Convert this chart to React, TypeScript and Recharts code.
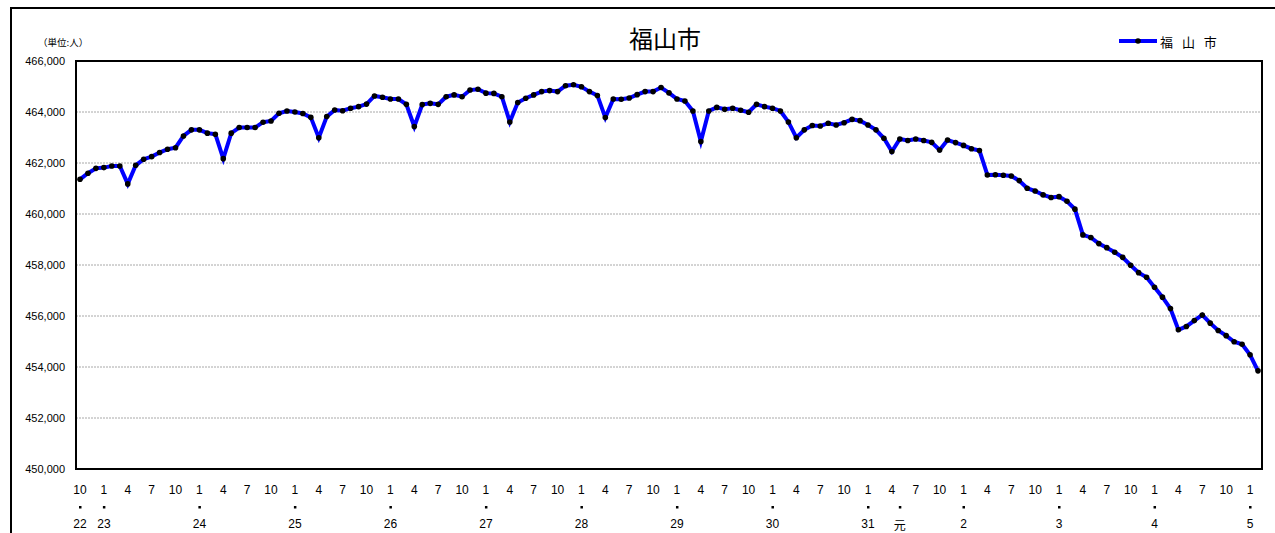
import React from 'react';
import { LineChart, Line, XAxis, YAxis, CartesianGrid } from 'recharts';

// monthly population, Oct 2010 (H22.10) .. Feb 2023 (R5.2)
const seriesName = '福 山 市';
const startYear = 2010;
const startMonth = 10;
const population = [
  461360, 461600, 461790, 461820, 461880, 461880, 461180, 461910, 462150, 462250, 462410, 462540,
  462600, 463060, 463300, 463300, 463170, 463130, 462170, 463170, 463390, 463390, 463390, 463600,
  463650, 463950, 464040, 464000, 463940, 463790, 462990, 463820, 464080, 464050, 464150, 464210,
  464310, 464630, 464580, 464510, 464510, 464300, 463430, 464290, 464340, 464300, 464600, 464670,
  464600, 464860, 464890, 464740, 464730, 464600, 463610, 464370, 464540, 464670, 464800, 464840,
  464800, 465030, 465070, 464990, 464800, 464650, 463780, 464510, 464500, 464550, 464680, 464800,
  464800, 464960, 464750, 464510, 464430, 464040, 462840, 464040, 464180, 464110, 464150, 464070,
  463990, 464300, 464210, 464150, 464040, 463610, 462990, 463300, 463470, 463450, 463560, 463490,
  463580, 463710, 463660, 463490, 463300, 462970, 462450, 462940, 462880, 462940, 462880, 462810,
  462510, 462900, 462800, 462690, 462560, 462490, 461530, 461540, 461520, 461490, 461310, 461010,
  460900, 460750, 460650, 460680, 460500, 460190, 459180, 459080, 458840, 458680, 458500, 458300,
  457990, 457700, 457520, 457130, 456740, 456290, 455460, 455590, 455820, 456040, 455720, 455430,
  455230, 454990, 454890, 454480, 453850,
];

// months that get a label on the axis
const labelledMonths = [1, 4, 7, 10];

// era year labels (Heisei / Reiwa), keyed by year-month
const eraLabels: Record<string, string> = {
  '2010-10': '22', '2011-1': '23', '2012-1': '24', '2013-1': '25', '2014-1': '26',
  '2015-1': '27', '2016-1': '28', '2017-1': '29', '2018-1': '30', '2019-1': '31',
  '2019-5': '元', '2020-1': '2', '2021-1': '3', '2022-1': '4', '2023-1': '5',
};

const yTicks = [450000, 452000, 454000, 456000, 458000, 460000, 462000, 464000, 466000];

const data = population.map((value, i) => {
  const n = startMonth - 1 + i;
  const month = (n % 12) + 1;
  const year = startYear + Math.floor(n / 12);
  const key = `${year}-${month}`;
  return {
    key,
    month: labelledMonths.includes(month) ? String(month) : '',
    era: eraLabels[key] ?? '',
    value,
  };
});

const numFont = '"Liberation Sans", Arial, sans-serif';
const jpFont = '"Noto Sans CJK JP", sans-serif';

const MonthTick = (props: any) => {
  const { x, y, index } = props;
  const d = data[index];
  if (!d) return null;
  return (
    <g transform={`translate(${x},${y})`}>
      {d.month && (
        <text y={21} textAnchor="middle" dominantBaseline="central" fontSize={12} fontFamily={numFont} fill="#000">
          {d.month}
        </text>
      )}
      {d.era && (
        <>
          <rect x={-1} y={37} width={2.5} height={2.5} fill="#000" />
          <text y={55} textAnchor="middle" dominantBaseline="central" fontSize={12} fontFamily={d.era === '元' ? jpFont : numFont} fill="#000">
            {d.era}
          </text>
        </>
      )}
    </g>
  );
};

export default function App() {
  return (
    <div style={{ position: 'absolute', left: 0, top: 0, width: 1275, height: 533, overflow: 'hidden', background: '#fff' }}>
      {/* outer frame */}
      <div style={{ position: 'absolute', left: 10, top: 7, width: 1320, height: 600, border: '2px solid #000', boxSizing: 'border-box' }} />

      <div style={{ position: 'absolute', left: 565, top: 24, width: 200, textAlign: 'center', fontFamily: jpFont, fontSize: 24, lineHeight: '28px', color: '#000' }}>
        福山市
      </div>

      <div style={{ position: 'absolute', left: 38, top: 35, fontFamily: jpFont, fontSize: 9.5, lineHeight: '14px', color: '#000' }}>
        （単位:人）
      </div>

      {/* legend */}
      <div style={{ position: 'absolute', left: 1119, top: 31, display: 'flex', alignItems: 'center', height: 20 }}>
        <svg width={38} height={10}>
          <line x1={0} y1={5} x2={38} y2={5} stroke="#0000ff" strokeWidth={4} />
          <circle cx={19} cy={5} r={2.8} fill="#000" />
        </svg>
        <span style={{ marginLeft: 3, fontFamily: jpFont, fontSize: 13, letterSpacing: 3, color: '#000' }}>{seriesName}</span>
      </div>

      <div style={{ position: 'absolute', left: 0, top: 0 }}>
        <LineChart width={1275} height={533} data={data} margin={{ top: 61, right: 13, bottom: 0, left: 0 }}>
          <CartesianGrid vertical={false} stroke="#a8a8a8" strokeDasharray="2 1" />
          <XAxis
            dataKey="key"
            interval={0}
            height={64}
            axisLine={false}
            tickLine={false}
            tickSize={0}
            tickMargin={0}
            padding={{ left: 4, right: 4 }}
            tick={<MonthTick />}
          />
          <YAxis
            domain={[450000, 466000]}
            ticks={yTicks}
            width={76}
            axisLine={false}
            tickLine={false}
            tickSize={0}
            tickMargin={11}
            tick={{ fontSize: 11, fill: '#000', fontFamily: numFont }}
            tickFormatter={(v: number) => v.toLocaleString('en-US')}
          />
          <Line
            type="linear"
            dataKey="value"
            name={seriesName}
            stroke="#0000ff"
            strokeWidth={4}
            dot={{ r: 2.8, fill: '#000', stroke: 'none' }}
            activeDot={false}
            isAnimationActive={false}
          />
        </LineChart>
      </div>

      {/* plot area border */}
      <div style={{ position: 'absolute', left: 75, top: 60, width: 1188, height: 410, border: '2px solid #000', boxSizing: 'border-box', pointerEvents: 'none' }} />
    </div>
  );
}
